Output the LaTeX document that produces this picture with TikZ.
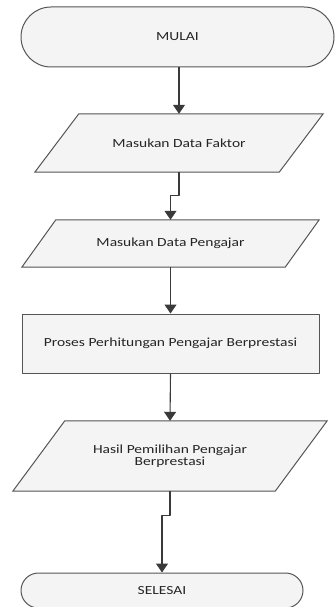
\documentclass[tikz,border=0pt]{standalone}
\usepackage{fontspec}
\setmainfont{Carlito}
\newfontfamily\lblfont[FakeStretch=1.25]{Carlito}
\usetikzlibrary{arrows.meta,calc,backgrounds}
\definecolor{edge}{HTML}{555555}
\definecolor{arrc}{HTML}{3A3A3A}
\definecolor{txt}{HTML}{252525}
\definecolor{fillc}{HTML}{F4F4F4}
\begin{document}
\begin{tikzpicture}[x=1pt,y=-1pt,line join=round,
  lbl/.style={inner sep=0pt,align=center,text=txt,font=\lblfont\fontsize{12.4}{11.8}\selectfont},
  term/.style={lbl,draw=edge,line width=1pt,fill=fillc},
  procbox/.style={lbl,draw=edge,line width=1pt,fill=fillc},
  shp/.style={draw=edge,line width=1pt,fill=fillc},
  arr/.style={draw=arrc,line width=1.1pt,-{Triangle[width=12pt,length=9pt]}}]
\useasboundingbox (0,0) rectangle (335,607);

\node[term,rounded corners=30pt,minimum width=313pt,minimum height=60pt] (mulai) at (177.5,37) {MULAI};
\node[lbl,minimum width=288pt,minimum height=58pt] (p1) at (179,143) {Masukan Data Faktor};
\node[lbl,minimum width=297pt,minimum height=47pt] (p2) at (170.5,243.5) {Masukan Data Pengajar};
\node[procbox,minimum width=297pt,minimum height=59pt] (proc) at (170.5,343.5) {Proses Perhitungan Pengajar Berprestasi};
\node[lbl,minimum width=314pt,minimum height=70pt] (p3) at (170,456) {Hasil Pemilihan Pengajar\\Berprestasi};
\node[term,rounded corners=17.5pt,minimum width=282pt,minimum height=35pt] (selesai) at (162,590.5) {SELESAI};

\begin{scope}[on background layer]
\draw[shp] ($(p1.north west)+(44,0)$) -- (p1.north east) -- ($(p1.south east)-(44,0)$) -- (p1.south west) -- cycle;
\draw[shp] ($(p2.north west)+(34,0)$) -- (p2.north east) -- ($(p2.south east)-(34,0)$) -- (p2.south west) -- cycle;
\draw[shp] ($(p3.north west)+(52,0)$) -- (p3.north east) -- ($(p3.south east)-(52,0)$) -- (p3.south west) -- cycle;
\end{scope}

\coordinate (j1) at ($(p1.south)+(0,23)$);
\coordinate (j2) at ($(p3.south)+(0,24)$);
\draw[arr] (mulai.south -| p1.north) -- (p1.north);
\draw[arr] (p1.south) -- (j1) -| (p2.north);
\draw[arr] (p2.south) -- (proc.north);
\draw[arr] (proc.south) -- (p3.north);
\draw[arr] (p3.south) -- (j2) -| (selesai.north);
\end{tikzpicture}
\end{document}
